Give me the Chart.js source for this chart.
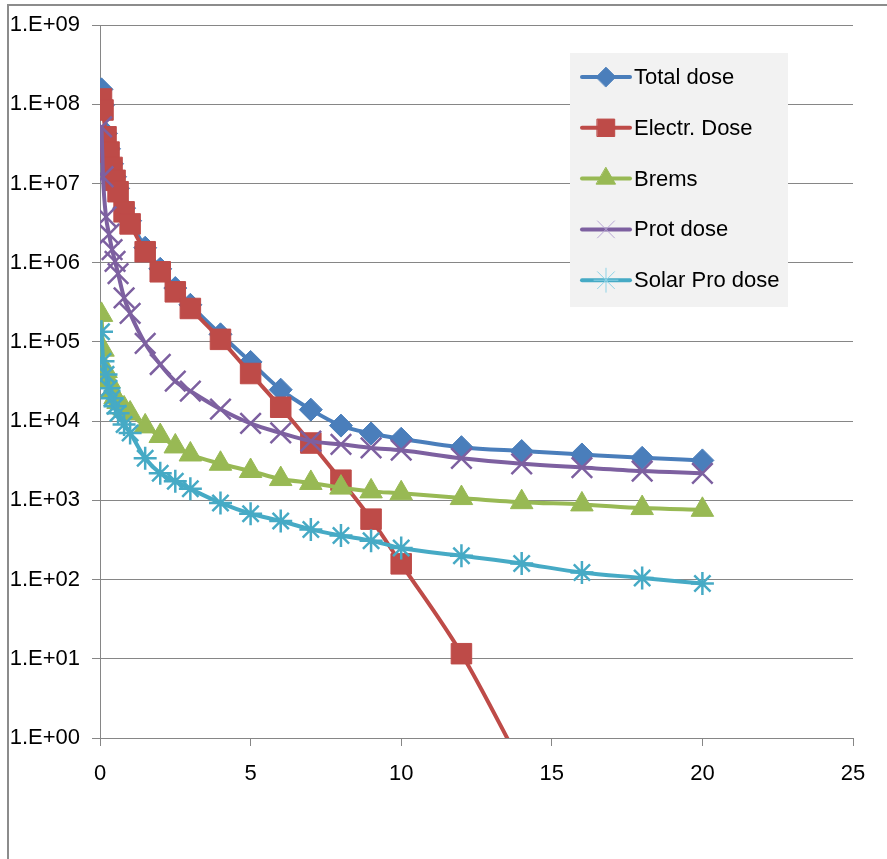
<!DOCTYPE html>
<html>
<head>
<meta charset="utf-8">
<script src="https://cdn.jsdelivr.net/npm/chart.js"></script>
<style>
html, body { margin: 0; padding: 0; background: #fff; }
</style>
</head>
<body>
<canvas id="myChart" width="887" height="859"></canvas>
<script>
var depth = [0.05, 0.1, 0.2, 0.3, 0.4, 0.5, 0.6, 0.8, 1, 1.5, 2, 2.5, 3, 4, 5, 6, 7, 8, 9, 10, 12, 14, 16, 18, 20];

var totalDose = [1.55e8, 9.8e7, 4.3e7, 2.75e7, 1.78e7, 1.22e7, 8.7e6, 4.9e6, 3.4e6, 1.55e6, 8.4e5, 4.8e5, 2.95e5, 1.25e5, 5.6e4, 2.5e4, 1.4e4, 8.8e3, 7.0e3, 6.0e3, 4.7e3, 4.2e3, 3.8e3, 3.45e3, 3.2e3];
var electrDose = [1.17e8, 8.5e7, 3.9e7, 2.5e7, 1.6e7, 1.1e7, 7.9e6, 4.4e6, 3.1e6, 1.38e6, 7.7e5, 4.3e5, 2.65e5, 1.08e5, 4.0e4, 1.5e4, 5.3e3, 1.8e3, 580, 158, 11.6, 0.45];
var bremsDose = [2.2e5, 8e4, 4.3e4, 3.2e4, 2.4e4, 2.0e4, 1.75e4, 1.45e4, 1.25e4, 8.6e3, 6.5e3, 4.8e3, 3.8e3, 2.9e3, 2.35e3, 1.86e3, 1.66e3, 1.45e3, 1.3e3, 1.23e3, 1.07e3, 950, 890, 800, 760];
var protDose = [5.2e7, 1.22e7, 3.8e6, 2.3e6, 1.47e6, 1.04e6, 7.3e5, 3.6e5, 2.3e5, 9.6e4, 5.2e4, 3.2e4, 2.4e4, 1.42e4, 9.4e3, 7.1e3, 5.6e3, 5.1e3, 4.6e3, 4.3e3, 3.4e3, 2.9e3, 2.6e3, 2.35e3, 2.2e3];
var solarProDose = [1.35e5, 5.7e4, 3.9e4, 2.6e4, 1.95e4, 1.55e4, 1.26e4, 9.1e3, 7.1e3, 3.4e3, 2.2e3, 1.75e3, 1.4e3, 930, 680, 550, 430, 360, 310, 250, 200, 160, 123, 105, 89];

var seriesNames = ["Total dose", "Electr. Dose", "Brems", "Prot dose", "Solar Pro dose"];

var xTickValues = [0, 5, 10, 15, 20, 25];
var xTickLabels = ["0", "5", "10", "15", "20", "25"];
var yTickValues = [1, 1e1, 1e2, 1e3, 1e4, 1e5, 1e6, 1e7, 1e8, 1e9];
var yTickLabels = ["1.E+00", "1.E+01", "1.E+02", "1.E+03", "1.E+04", "1.E+05", "1.E+06", "1.E+07", "1.E+08", "1.E+09"];

var fontFamily = "'Liberation Sans', Arial, sans-serif";
var gridColor = "#868686";

function pts(values) {
	var out = [];
	for (var i = 0; i < values.length; i++) {
		out.push({ x: depth[i], y: values[i] });
	}
	return out;
}

function series(name, values, color, style, radius, bw, order) {
	return {
		label: name,
		data: pts(values),
		borderColor: color,
		backgroundColor: color,
		borderWidth: 4,
		pointStyle: style,
		pointRadius: radius,
		pointBorderWidth: bw,
		pointBackgroundColor: color,
		pointBorderColor: color,
		cubicInterpolationMode: "monotone",
		order: order
	};
}

var datasets = [
	series(seriesNames[0], totalDose, "#4a7ebb", "rectRot", 11.5, 1, 5),
	series(seriesNames[1], electrDose, "#be4b48", "rect", 14.5, 1, 4),
	series(seriesNames[2], bremsDose, "#98b954", "triangle", 13, 1, 3),
	series(seriesNames[3], protDose, "#7d60a0", "crossRot", 14.5, 2.5, 2),
	series(seriesNames[4], solarProDose, "#46aac5", "star", 11.5, 2.5, 1)
];

// frame line on the left / top like the excel chart crop
var frame = {
	id: "frame",
	beforeDraw: function(chart) {
		var ctx = chart.ctx;
		ctx.save();
		ctx.fillStyle = "#fff";
		ctx.fillRect(0, 0, chart.width, chart.height);
		ctx.strokeStyle = "#8c8c8c";
		ctx.lineWidth = 2;
		ctx.beginPath();
		ctx.moveTo(8, chart.height);
		ctx.lineTo(8, 5);
		ctx.lineTo(chart.width, 5);
		ctx.stroke();
		ctx.restore();
	}
};

var legendBox = {
	id: "legendBox",
	afterDraw: function(chart) {
		var ctx = chart.ctx;
		ctx.save();
		ctx.fillStyle = "#f2f2f2";
		ctx.fillRect(570, 53, 218, 254);
		var ds = chart.data.datasets;
		for (var i = 0; i < ds.length; i++) {
			var y = 77 + i * 50.8;
			ctx.strokeStyle = ds[i].borderColor;
			ctx.lineWidth = 4;
			ctx.lineCap = "round";
			ctx.beginPath();
			ctx.moveTo(582, y);
			ctx.lineTo(630, y);
			ctx.stroke();
			var thin = ds[i].pointStyle == "crossRot" || ds[i].pointStyle == "star";
			ctx.fillStyle = ds[i].pointBackgroundColor;
			ctx.strokeStyle = thin ? "#b9a7d6" : ds[i].pointBorderColor;
			if (ds[i].pointStyle == "star") ctx.strokeStyle = "#8fd3e6";
			ctx.lineWidth = 1;
			Chart.helpers.drawPoint(ctx, {
				pointStyle: ds[i].pointStyle,
				radius: thin ? 12 : ds[i].pointRadius * 0.85,
				borderWidth: 1,
				rotation: 0
			}, 606, y);
			ctx.fillStyle = "#000";
			ctx.font = "22px " + fontFamily;
			ctx.textAlign = "left";
			ctx.textBaseline = "middle";
			ctx.fillText(ds[i].label, 634, y + 1);
		}
		ctx.restore();
	}
};

var myChart = new Chart(document.getElementById("myChart"), {
	type: "line",
	data: { datasets: datasets },
	plugins: [frame, legendBox],
	options: {
		responsive: false,
		animation: false,
		layout: { padding: { left: 0, top: 23, right: 34, bottom: 0 } },
		plugins: {
			legend: { display: false },
			tooltip: { enabled: false }
		},
		scales: {
			x: {
				type: "linear",
				min: 0,
				max: 25,
				afterBuildTicks: function(scale) {
					scale.ticks = xTickValues.map(function(v) { return { value: v }; });
				},
				afterFit: function(scale) { scale.height = 121; },
				ticks: {
					color: "#000",
					padding: 15,
					maxRotation: 0,
					font: { family: fontFamily, size: 22 },
					callback: function(v, i) { return xTickLabels[i]; }
				},
				grid: { drawOnChartArea: false, drawTicks: true, tickLength: 8, color: gridColor },
				border: { color: gridColor, width: 1 }
			},
			y: {
				type: "logarithmic",
				min: 1,
				max: 1e9,
				afterBuildTicks: function(scale) {
					scale.ticks = yTickValues.map(function(v) { return { value: v }; });
				},
				afterFit: function(scale) { scale.width = 100; },
				ticks: {
					color: "#000",
					padding: 12,
					font: { family: fontFamily, size: 22 },
					callback: function(v, i) { return yTickLabels[i]; }
				},
				grid: { color: gridColor, lineWidth: 1, tickLength: 8 },
				border: { color: gridColor, width: 1 }
			}
		}
	}
});
</script>
</body>
</html>
